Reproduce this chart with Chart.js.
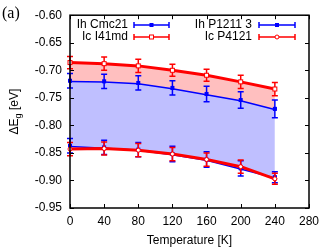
<!DOCTYPE html>
<html><head><meta charset="utf-8">
<script src="https://cdn.jsdelivr.net/npm/chart.js@4.4.1/dist/chart.umd.min.js"></script>
<style>html,body{margin:0;padding:0;background:#fff}canvas{display:block}</style>
</head><body>
<canvas id="c" width="332" height="249"></canvas>
<script>
const temps = [0, 40, 80, 120, 160, 200, 240];
const xTicks = [0, 40, 80, 120, 160, 200, 240, 280];
const yTicks = [-0.95, -0.90, -0.85, -0.80, -0.75, -0.70, -0.65, -0.60];

const ihCmc21    = [-0.719, -0.720, -0.723, -0.732, -0.743, -0.754, -0.770];
const ihCmc21Err = [0.013, 0.013, 0.013, 0.013, 0.014, 0.015, 0.016];
const icI41md    = [-0.686, -0.688, -0.692, -0.700, -0.709, -0.721, -0.734];
const icI41mdErr = [0.011, 0.012, 0.012, 0.011, 0.011, 0.012, 0.012];
const ihP12113   = [-0.837, -0.840, -0.844, -0.852, -0.862, -0.878, -0.894];
const ihP12113Err= [0.013, 0.013, 0.013, 0.014, 0.014, 0.014, 0.010];
const icP4121    = [-0.843, -0.842, -0.845, -0.852, -0.862, -0.875, -0.897];
const icP4121Err = [0.012, 0.012, 0.012, 0.012, 0.012, 0.012, 0.010];

const labels = ['Ih Cmc21', 'Ic I41md', 'Ih P1211 3', 'Ic P4121'];

const BLUE = '#0000ff', RED = '#ff0000';
const FONT = '"Liberation Sans", Arial, sans-serif';
const pts = (arr) => arr.map((v, i) => ({x: temps[i], y: v}));

// draw order: later index drawn first; index 0 on top
const datasets = [
  {label: labels[3], data: pts(icP4121), err: icP4121Err, borderColor: RED, backgroundColor: '#fff', pointStyle: 'circle', fill: false},
  {label: labels[1], data: pts(icI41md), err: icI41mdErr, borderColor: RED, backgroundColor: '#fff', pointStyle: 'rect', fill: {target: 2}, fillColor: 'rgb(255,191,191)'},
  {label: labels[0], data: pts(ihCmc21), err: ihCmc21Err, borderColor: BLUE, backgroundColor: BLUE, pointStyle: 'rect', fill: {target: 3}, fillColor: 'rgb(191,191,255)'},
  {label: labels[2], data: pts(ihP12113), err: ihP12113Err, borderColor: BLUE, backgroundColor: BLUE, pointStyle: 'rect', fill: false}
];
datasets.forEach(d => {
  d.borderWidth = 3; d.pointRadius = 2; d.pointBorderWidth = 1; d.pointBorderColor = d.borderColor;
  d.pointBackgroundColor = d.backgroundColor; d.tension = 0;
  if (d.fill) d.backgroundColor = d.fillColor;
});

const decor = {
  id: 'decor',
  afterDatasetsDraw(chart) {
    const ctx = chart.ctx, xs = chart.scales.x, ys = chart.scales.y;
    // error bars
    for (let di = chart.data.datasets.length - 1; di >= 0; di--) {
      const ds = chart.data.datasets[di];
      ctx.save(); ctx.strokeStyle = ds.borderColor; ctx.lineWidth = 1.5;
      ds.data.forEach((p, i) => {
        const x = xs.getPixelForValue(p.x);
        const y1 = ys.getPixelForValue(p.y + ds.err[i]);
        const y2 = ys.getPixelForValue(p.y - ds.err[i]);
        ctx.beginPath();
        ctx.moveTo(x, y1); ctx.lineTo(x, y2);
        ctx.moveTo(x - 3, y1); ctx.lineTo(x + 3, y1);
        ctx.moveTo(x - 3, y2); ctx.lineTo(x + 3, y2);
        ctx.stroke();
      });
      // point markers
      ds.data.forEach((p) => {
        const x = xs.getPixelForValue(p.x), y = ys.getPixelForValue(p.y);
        ctx.lineWidth = 1;
        if (ds.pointStyle === 'circle') {
          ctx.fillStyle = '#fff'; ctx.beginPath(); ctx.arc(x, y, 2, 0, 2 * Math.PI); ctx.fill(); ctx.stroke();
        } else if (ds.borderColor === RED) {
          ctx.fillStyle = '#fff'; ctx.fillRect(x - 2, y - 2, 4, 4); ctx.strokeRect(x - 2, y - 2, 4, 4);
        } else {
          ctx.fillStyle = BLUE; ctx.fillRect(x - 2, y - 2, 4, 4);
        }
      });
      ctx.restore();
    }
    const a = chart.chartArea;
    ctx.save();
    ctx.strokeStyle = '#000'; ctx.lineWidth = 1;
    // inside ticks
    ctx.beginPath();
    xTicks.forEach(v => {
      const x = Math.round(xs.getPixelForValue(v)) + 0.5;
      ctx.moveTo(x, a.bottom); ctx.lineTo(x, a.bottom - 4);
      ctx.moveTo(x, a.top); ctx.lineTo(x, a.top + 4);
    });
    yTicks.forEach(v => {
      const y = Math.round(ys.getPixelForValue(v)) + 0.5;
      ctx.moveTo(a.left, y); ctx.lineTo(a.left + 4, y);
      ctx.moveTo(a.right, y); ctx.lineTo(a.right - 4, y);
    });
    ctx.stroke();
    ctx.lineWidth = 1.5;
    ctx.strokeRect(a.left, a.top, a.right - a.left, a.bottom - a.top);
    // legend
    ctx.font = '12px ' + FONT; ctx.fillStyle = '#000'; ctx.textAlign = 'right'; ctx.textBaseline = 'middle';
    const leg = [
      {t: labels[0], col: BLUE, tx: 128, x1: 134, x2: 169, y: 25, mk: 'fill'},
      {t: labels[1], col: RED, tx: 128, x1: 134, x2: 169, y: 37, mk: 'rect'},
      {t: labels[2], col: BLUE, tx: 252, x1: 259, x2: 295, y: 25, mk: 'fill'},
      {t: labels[3], col: RED, tx: 252, x1: 259, x2: 295, y: 37, mk: 'circle'}
    ];
    leg.forEach(l => {
      ctx.fillStyle = '#000'; ctx.fillText(l.t, l.tx, l.y);
      ctx.strokeStyle = l.col; ctx.lineWidth = 1.5;
      ctx.beginPath();
      ctx.moveTo(l.x1, l.y); ctx.lineTo(l.x2, l.y);
      ctx.moveTo(l.x1, l.y - 3); ctx.lineTo(l.x1, l.y + 3);
      ctx.moveTo(l.x2, l.y - 3); ctx.lineTo(l.x2, l.y + 3);
      ctx.stroke();
      const mx = (l.x1 + l.x2) / 2; ctx.lineWidth = 1;
      if (l.mk === 'fill') { ctx.fillStyle = l.col; ctx.fillRect(mx - 2, l.y - 2, 4, 4); }
      else if (l.mk === 'rect') { ctx.fillStyle = '#fff'; ctx.fillRect(mx - 2, l.y - 2, 4, 4); ctx.strokeRect(mx - 2, l.y - 2, 4, 4); }
      else { ctx.fillStyle = '#fff'; ctx.beginPath(); ctx.arc(mx, l.y, 2, 0, 2 * Math.PI); ctx.fill(); ctx.stroke(); }
    });
    // titles
    ctx.fillStyle = '#000';
    ctx.textAlign = 'center'; ctx.textBaseline = 'alphabetic';
    ctx.font = '12px ' + FONT;
    ctx.fillText('Temperature [K]', (a.left + a.right) / 2, 244);
    ctx.font = '16px "Liberation Serif", "Times New Roman", serif';
    ctx.textAlign = 'left';
    ctx.fillText('(a)', 2, 18);
    // y title with subscript
    ctx.save();
    ctx.translate(18, (a.top + a.bottom) / 2);
    ctx.rotate(-Math.PI / 2);
    ctx.font = '12px ' + FONT;
    const p1 = '\u0394E', p2 = 'g', p3 = ' [eV]';
    ctx.font = '12px ' + FONT; const w1 = ctx.measureText(p1).width;
    ctx.font = '9px ' + FONT; const w2 = ctx.measureText(p2).width;
    ctx.font = '12px ' + FONT; const w3 = ctx.measureText(p3).width;
    let x0 = -(w1 + w2 + w3) / 2;
    ctx.fillText(p1, x0, 0);
    ctx.font = '9px ' + FONT; ctx.fillText(p2, x0 + w1, 3);
    ctx.font = '12px ' + FONT; ctx.fillText(p3, x0 + w1 + w2, 0);
    ctx.restore();
    ctx.restore();
  }
};

new Chart(document.getElementById('c'), {
  type: 'line',
  data: {datasets},
  options: {
    responsive: false, animation: false, devicePixelRatio: 1,
    layout: {padding: {top: 15, right: 23, left: 0, bottom: 0}},
    plugins: {legend: {display: false}, tooltip: {enabled: false}, filler: {propagate: false}},
    elements: {line: {borderJoinStyle: 'round'}},
    scales: {
      x: {
        type: 'linear', min: 0, max: 280,
        afterBuildTicks: s => { s.ticks = xTicks.map(v => ({value: v})); },
        afterFit: s => { s.height = 41; },
        grid: {display: false, drawTicks: false}, border: {display: false},
        ticks: {color: '#000', font: {size: 12, family: FONT}, padding: 6, maxRotation: 0, callback: v => String(v)}
      },
      y: {
        type: 'linear', min: -0.95, max: -0.60,
        afterBuildTicks: s => { s.ticks = yTicks.map(v => ({value: v})); },
        afterFit: s => { s.width = 70; },
        grid: {display: false, drawTicks: false}, border: {display: false},
        ticks: {color: '#000', font: {size: 12, family: FONT}, padding: 8, callback: v => Number(v).toFixed(2)}
      }
    }
  },
  plugins: [decor]
});
</script>
</body></html>
